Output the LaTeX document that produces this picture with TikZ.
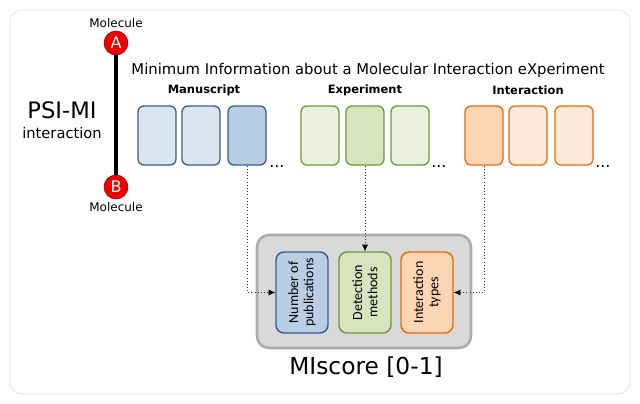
\documentclass[tikz,border=0pt]{standalone}
\usepackage{fontspec}
\setmainfont{DejaVu Sans}
\newfontfamily\calib{Carlito}
\usetikzlibrary{arrows.meta,positioning}
\definecolor{msline}{HTML}{385D8A}
\definecolor{mslight}{HTML}{DCE6F2}
\definecolor{msdark}{HTML}{B9CDE5}
\definecolor{exline}{HTML}{77933C}
\definecolor{exlight}{HTML}{EBF1DE}
\definecolor{exdark}{HTML}{D7E4BD}
\definecolor{inline}{HTML}{E46C0A}
\definecolor{inlight}{HTML}{FDE9D9}
\definecolor{indark}{HTML}{FCD5B5}
\definecolor{molred}{HTML}{EE0000}
\tikzset{
  mol/.style={shape=circle,draw=red!55!black,fill=molred,text=white,minimum size=18pt,inner sep=0pt,font=\fontsize{12}{14}\selectfont},
  cell/.style 2 args={draw=#1,fill=#2,line width=1pt,rounded corners=4.5pt,minimum width=28.5pt,minimum height=44.25pt,inner sep=0pt},
  group/.style={font=\bfseries\fontsize{8.6}{10}\selectfont},
  factor/.style n args={3}{draw=#1,fill=#2,line width=1.1pt,rounded corners=6pt,minimum width=39pt,minimum height=60.75pt,inner sep=0pt,
    label={[rotate=90,align=center,font=\calib\fontsize{10.5}{11.5}\selectfont]center:#3}},
  dots/.style={anchor=base west,inner sep=0pt,font=\fontsize{12}{14}\selectfont},
  link/.style={dotted,draw=black!80,thin,-{Latex[length=5pt,width=4.5pt,black]}}
}
\begin{document}
\begin{tikzpicture}[x=0.75pt,y=-0.75pt]
\useasboundingbox (0,0) rectangle (640,404);
\draw[rounded corners=9pt,draw=black!15] (10,10) rectangle (630,394);
\node[mol] (a) at (116,43) {A};
\node[mol] (b) at (116,187) {B};
\draw[line width=3pt] (a.south) -- (b.north);
\node[above=-1.5pt of a,font=\fontsize{9}{10}\selectfont] (mola) {Molecule};
\node[below=-1.5pt of b,font=\fontsize{9}{10}\selectfont] (molb) {Molecule};
\node[font=\fontsize{17}{20}\selectfont] (psi) at (62,110) {PSI-MI};
\node[font=\fontsize{11}{13}\selectfont] (psiint) at (62,133) {interaction};
\node[font=\fontsize{11.1}{13}\selectfont] (mimix) at (368,70) {Minimum Information about a Molecular Interaction eXperiment};
\node[group] (ms) at (204,90) {Manuscript};
\node[group] (ex) at (365,90) {Experiment};
\node[group] (in) at (528,90) {Interaction};
\foreach \x/\n/\f in {157/1/mslight,201/2/mslight,247/3/msdark}
  \node[cell={msline}{\f}] (m\n) at (\x,135.5) {};
\foreach \x/\n/\f in {320/1/exlight,365/2/exdark,410/3/exlight}
  \node[cell={exline}{\f}] (e\n) at (\x,135.5) {};
\foreach \x/\n/\f in {484/1/indark,528/2/inlight,574/3/inlight}
  \node[cell={inline}{\f}] (i\n) at (\x,135.5) {};
\node[dots] (msdots) at (269,167) {...};
\node[dots] (exdots) at (431,167) {...};
\node[dots] (indots) at (595,167) {...};
\node[draw=black!33,fill=black!15,line width=1.9pt,rounded corners=9pt,minimum width=160.5pt,minimum height=84.75pt] (mis) at (364,291.5) {};
\node[factor={msline}{msdark}{Number of\\publications}] (num) at (302,292.5) {};
\node[factor={exline}{exdark}{Detection\\methods}] (det) at (365,292.5) {};
\node[factor={inline}{indark}{Interaction\\types}] (typ) at (427,292.5) {};
\node[font=\fontsize{17.5}{20}\selectfont] (misc) at (366,367) {MIscore [0-1]};
\draw[link] (m3.south) |- (num.west);
\draw[link] (e2.south) -- (det.north);
\draw[link] (i1.south) |- (typ.east);
\end{tikzpicture}
\end{document}
